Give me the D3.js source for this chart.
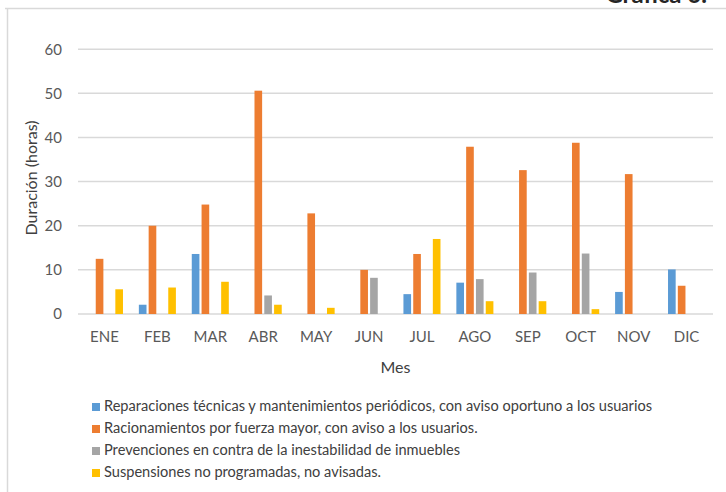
<!DOCTYPE html>
<html><head><meta charset="utf-8">
<script src="https://cdn.jsdelivr.net/npm/d3@7"></script>
<style>
html,body{margin:0;padding:0;background:#fff;}
svg{display:block;}
text{font-family:Lato,"Open Sans",sans-serif;}
</style></head>
<body>
<svg id="chart" width="726" height="492"></svg>
<script>
const months = ["ENE","FEB","MAR","ABR","MAY","JUN","JUL","AGO","SEP","OCT","NOV","DIC"];
const seriesNames = [
  "Reparaciones técnicas y mantenimientos periódicos, con aviso oportuno a los usuarios",
  "Racionamientos por fuerza mayor, con aviso a los usuarios.",
  "Prevenciones en contra de la inestabilidad de inmuebles",
  "Suspensiones no programadas, no avisadas."
];
const colors = ["#5b9bd5","#ed7d31","#a5a5a5","#ffc000"];
const reparaciones   = [0, 2.1, 13.6, 0, 0, 0, 4.5, 7.1, 0, 0, 5.0, 10.1];
const racionamientos = [12.5, 20.0, 24.8, 50.6, 22.8, 10.0, 13.6, 37.9, 32.6, 38.8, 31.7, 6.4];
const prevenciones   = [0, 0, 0, 4.2, 0, 8.2, 0, 7.9, 9.4, 13.7, 0, 0];
const suspensiones   = [5.6, 6.0, 7.3, 2.1, 1.4, 0, 17.0, 2.9, 2.9, 1.1, 0, 0];
const yTicks = [0,10,20,30,40,50,60];
const seriesValues = [reparaciones, racionamientos, prevenciones, suspensiones];

const svg = d3.select("#chart");

// frame
svg.append("line").attr("x1",5).attr("x2",726).attr("y1",8.5).attr("y2",8.5).attr("stroke","#d9d9d9").attr("stroke-width",1.5);
svg.append("line").attr("x1",7.5).attr("x2",7.5).attr("y1",8).attr("y2",492).attr("stroke","#d9d9d9").attr("stroke-width",1.5);
// clipped title (cut off at top edge, as in the reference)
svg.append("text").attr("x",707).attr("y",2.5).attr("text-anchor","end")
  .attr("font-size",24).attr("font-weight","bold").attr("fill","#262626").text("Gráfica 6.");

const x0 = 78, x1 = 713, yBase = 314, yTop = 49.2;
const x = d3.scaleBand().domain(months).range([x0,x1]).paddingInner(0.3).paddingOuter(0.15);
const xs = d3.scaleBand().domain(d3.range(4)).range([0,x.bandwidth()]).paddingInner(0.22);
const y = d3.scaleLinear().domain([0,60]).range([yBase,yTop]);

// gridlines
svg.append("g").selectAll("line").data(yTicks).join("line")
  .attr("x1",x0).attr("x2",x1).attr("y1",d=>y(d)).attr("y2",d=>y(d))
  .attr("stroke","#d9d9d9").attr("stroke-width",1.5);

// y axis labels
const yAxis = d3.axisLeft(y).tickValues(yTicks).tickSize(0).tickPadding(0);
const gy = svg.append("g").attr("transform",`translate(62,0)`).call(yAxis);
gy.select(".domain").remove();
gy.selectAll("text").attr("font-size",15).attr("fill","#595959").attr("font-family","Lato, sans-serif");

// x axis labels
const xAxis = d3.axisBottom(x).tickSize(0).tickPadding(0);
const gx = svg.append("g").attr("transform",`translate(0,${yBase+17})`).call(xAxis);
gx.select(".domain").remove();
gx.selectAll("text").attr("font-size",15).attr("fill","#595959").attr("font-family","Lato, sans-serif");

// bars
const groups = svg.append("g").selectAll("g").data(months).join("g")
  .attr("transform",d=>`translate(${x(d)},0)`);
groups.selectAll("rect").data((m,i)=>seriesValues.map((s,k)=>({k, v:s[i]})).filter(d=>d.v>0)).join("rect")
  .attr("x",d=>xs(d.k)).attr("width",xs.bandwidth())
  .attr("y",d=>y(d.v)).attr("height",d=>yBase-y(d.v))
  .attr("fill",d=>colors[d.k]);

// axis titles
svg.append("text").attr("transform",`translate(33,178) rotate(-90)`).attr("text-anchor","middle")
  .attr("dominant-baseline","middle").attr("font-size",16).attr("fill","#404040").text("Duración (horas)");
svg.append("text").attr("x",(x0+x1)/2).attr("y",373).attr("text-anchor","middle")
  .attr("font-size",16).attr("fill","#404040").text("Mes");

// legend
const leg = svg.append("g").selectAll("g").data(seriesNames).join("g")
  .attr("transform",(d,i)=>`translate(92,${407+i*22})`);
leg.append("rect").attr("x",0).attr("y",-4).attr("width",8).attr("height",8).attr("fill",(d,i)=>colors[i]);
leg.append("text").attr("x",12).attr("y",0).attr("dominant-baseline","middle")
  .attr("font-size",14.6).attr("fill","#404040").text(d=>d);
</script>
</body></html>
